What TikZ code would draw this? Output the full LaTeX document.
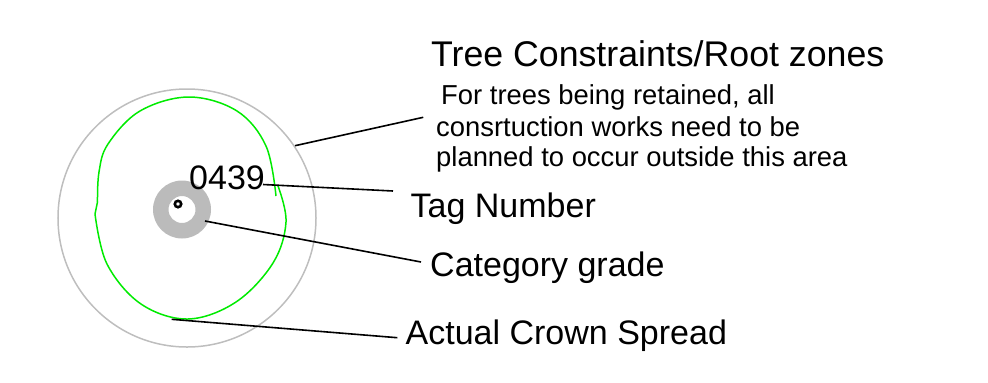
\documentclass[tikz,border=0pt]{standalone}
\usepackage{fontspec}
\setmainfont{Liberation Sans}
\definecolor{zonegray}{RGB}{190,190,190}
\definecolor{ringgray}{RGB}{187,187,187}
\definecolor{crowngreen}{RGB}{0,235,0}
\tikzset{
  lbl/.style={anchor=base west, inner sep=0pt, font=\fontsize{34bp}{40bp}\selectfont},
  ttl/.style={anchor=base west, inner sep=0pt, font=\fontsize{35.7bp}{40bp}\selectfont},
  para/.style={anchor=base west, inner sep=0pt, font=\fontsize{27.4bp}{31bp}\selectfont},
  leader/.style={draw=black, line width=1.6bp},
  crown/.style={draw=crowngreen, line width=1.5bp, line join=round},
}
\begin{document}
\begin{tikzpicture}[x=1bp,y=-1bp]
\useasboundingbox (0,0) rectangle (988,382);
% root zone
\draw[zonegray, line width=1.5bp] (187,218) circle (129bp);
% crown spread
\draw[crown] plot[smooth, tension=0.6] coordinates {
 (97.5,202) (99,172) (108,144) (140,111) (189,97) (237,111) (266,146)
 (276,196)};
\draw[crown] plot[smooth, tension=0.6] coordinates {
 (278,186) (286,222) (273,263) (236,302) (188,319) (141,304) (107,264)
 (95,214)} -- (97.5,202);
% category ring
\fill[ringgray, even odd rule] (182,209.5) circle (29bp) (182,209.5) circle (13.5bp);
\draw[black, fill=white, line width=2.6bp] (178,204) circle (3.2bp);
% labels
\node[lbl] (tagno) at (189,189.3) {0439};
\node[ttl] (title) at (431,66.7) {Tree Constraints/Root zones};
\node[para] (p1) at (441,104) {For trees being retained, all};
\node[para] (p2) at (436,136) {consrtuction works need to be};
\node[para] (p3) at (436,166.7) {planned to occur outside this area};
\node[lbl] (tag) at (410.5,217) {Tag Number};
\node[lbl] (cat) at (430,276) {Category grade};
\node[lbl] (crown) at (405.5,344) {Actual Crown Spread};
% connector ends
\coordinate (zoneE) at (295,145.7);
\coordinate (titleE) at (423.3,117.3);
\coordinate (tagS) at (263,184.5);
\coordinate (tagE) at (393,191);
\coordinate (ringE) at (205,221);
\coordinate (catE) at (421,262);
\coordinate (crownS) at (171.7,319.3);
\coordinate (crownE) at (397.3,337.7);
\draw[leader] (zoneE) -- (titleE);
\draw[leader] (tagS) -- (tagE);
\draw[leader] (ringE) -- (catE);
\draw[leader] (crownS) -- (crownE);
\end{tikzpicture}
\end{document}
